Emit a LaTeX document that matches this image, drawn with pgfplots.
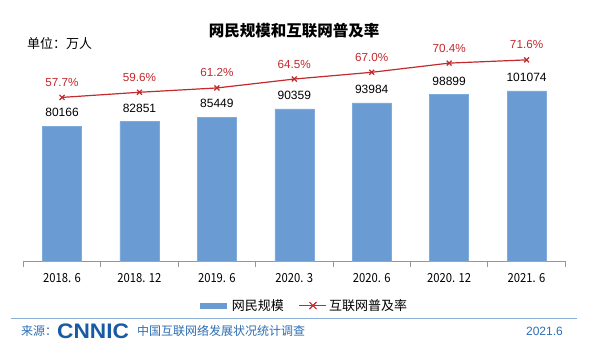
\documentclass[border=0pt]{standalone}
\usepackage{fontspec}
\usepackage{pgfplots}
\pgfplotsset{compat=1.18}
\setmainfont{Liberation Sans}
\newfontfamily\cjk{Noto Sans CJK SC}
\newfontfamily\cjknarrow[FakeStretch=0.9]{Noto Sans CJK SC}
\definecolor{barblue}{RGB}{106,155,210}
\definecolor{linered}{RGB}{195,42,45}
\definecolor{footblue}{RGB}{45,110,180}
\definecolor{logoblue}{RGB}{25,90,165}
\definecolor{axgray}{RGB}{150,150,150}

\begin{document}
\begin{tikzpicture}[x=1pt,y=1pt]
\fill[white] (0,0) rectangle (600,-355);
\path[use as bounding box] (0,0) rectangle (600,-355);

\begin{axis}[
  at={(23.3pt,-261.5pt)}, anchor=south west,
  scale only axis, width=542pt, height=220.5pt,
  xmin=-0.5, xmax=6.5, ymin=0, ymax=130560,
  ybar, bar width=39pt,
  axis y line=none, axis x line*=bottom,
  x axis line style={-, draw=axgray, line width=0.8pt},
  xtick={0,1,2,3,4,5,6},
  xticklabels={2018. 6, 2018. 12, 2019. 6, 2020. 3, 2020. 6, 2020. 12, 2021. 6},
  major x tick style={draw=none},
  minor xtick={-0.5,0.5,1.5,2.5,3.5,4.5,5.5,6.5},
  minor tick length=5pt, tick align=outside,
  minor x tick style={draw=axgray, line width=0.8pt},
  xticklabel style={font=\cjknarrow\fontsize{12.5}{12.5}\selectfont, text=black, yshift=-4pt},
  legend style={at={(0.516,-0.2)}, anchor=center, draw=none, fill=none,
    legend columns=2, font=\cjk\fontsize{13}{13}\selectfont,
    /tikz/every even column/.append style={column sep=13pt}},
]
\addplot[fill=barblue, draw=barblue!85!white,
  nodes near coords, point meta=explicit symbolic,
  nodes near coords style={font=\fontsize{12}{12}\selectfont, anchor=center, yshift=13.5pt, text=black},
  legend image code/.code={\draw[line width=6pt, barblue] (0pt,0pt) -- (27pt,0pt);}]
coordinates {
(0,80166) [80166]
(1,82851) [82851]
(2,85449) [85449]
(3,90359) [90359]
(4,93984) [93984]
(5,98899) [98899]
(6,101074) [101074]
};
\addlegendentry{网民规模}
\addlegendimage{legend image code/.code={
  \draw[linered, line width=1.2pt] (0pt,0pt) -- (27pt,0pt);
  \draw[linered, line width=1.2pt] (10pt,-3.5pt) -- (17pt,3.5pt) (10pt,3.5pt) -- (17pt,-3.5pt);}}
\addlegendentry{互联网普及率}
\end{axis}

\begin{axis}[
  at={(23.3pt,-261.5pt)}, anchor=south west,
  scale only axis, width=542pt, height=220.5pt,
  xmin=-0.5, xmax=6.5, ymin=-3.1, ymax=78.6,
  hide axis,
]
\addplot[linered, line width=1.2pt, mark=x, mark size=3.5pt,
  mark options={line width=1.2pt},
  nodes near coords, point meta=explicit symbolic,
  nodes near coords style={font=\fontsize{11.7}{11.7}\selectfont, anchor=center, yshift=15pt, text=linered}]
coordinates {
(0,57.7) [57.7\%]
(1,59.6) [59.6\%]
(2,61.2) [61.2\%]
(3,64.5) [64.5\%]
(4,67.0) [67.0\%]
(5,70.4) [70.4\%]
(6,71.6) [71.6\%]
};
\end{axis}

\node[font=\cjk\bfseries\fontsize{15.5}{15.5}\selectfont, inner sep=0] at (294,-30.7) {网民规模和互联网普及率};
\node[font=\cjk\fontsize{13}{13}\selectfont, anchor=west, inner sep=0] at (27,-44) {单位：万人};
\draw[color=footblue!55, line width=0.8pt] (11,-318) -- (577,-318);
\node[anchor=west, text=footblue, font=\cjk\fontsize{12}{12}\selectfont, inner sep=0] at (21,-331) {来源：};
\node[anchor=west, text=logoblue, font=\bfseries\fontsize{21}{21}\selectfont, inner sep=0, xscale=1.08] at (57,-331) {CNNIC};
\node[anchor=west, text=footblue, font=\cjk\fontsize{12}{12}\selectfont, inner sep=0] at (137,-331) {中国互联网络发展状况统计调查};
\node[anchor=east, text=footblue, font=\fontsize{12}{12}\selectfont, inner sep=0] at (563,-331) {2021.6};
\end{tikzpicture}
\end{document}
